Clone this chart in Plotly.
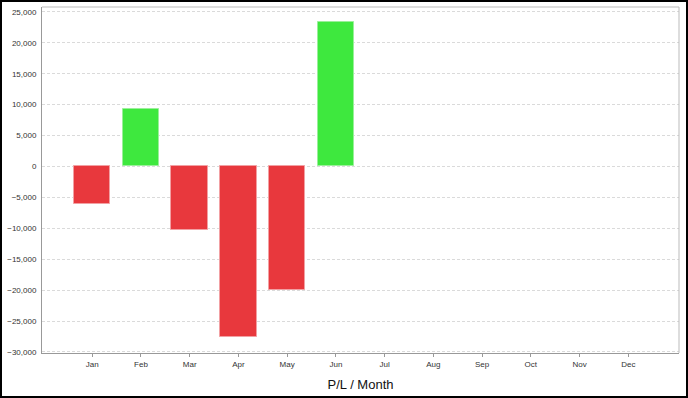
import plotly.graph_objects as go

months = ["Jan", "Feb", "Mar", "Apr", "May", "Jun", "Jul", "Aug", "Sep", "Oct", "Nov", "Dec"]
pl_values = [-6100, 9350, -10300, -27600, -20000, 23400, None, None, None, None, None, None]
y_tickvals = [-30000, -25000, -20000, -15000, -10000, -5000, 0, 5000, 10000, 15000, 20000, 25000]

RED = "#E8383D"
GREEN = "#3EE83E"
RED_EDGE = "#F2A0A3"
GREEN_EDGE = "#9AF09A"

xs = list(range(len(months)))
colors = [(GREEN if (v is not None and v >= 0) else RED) for v in pl_values]
edges = [(GREEN_EDGE if (v is not None and v >= 0) else RED_EDGE) for v in pl_values]

fig = go.Figure()
fig.add_trace(go.Bar(
    x=xs, y=pl_values, width=0.75,
    marker=dict(color=colors, line=dict(color=edges, width=1)),
    showlegend=False, hoverinfo="skip",
))

L, R, T, B = 42, 9, 7, 45
W, H = 688, 398
pw, ph = W - L - R, H - T - B

fig.update_layout(
    width=W, height=H,
    margin=dict(l=L, r=R, t=T, b=B, pad=0, autoexpand=False),
    paper_bgcolor="white", plot_bgcolor="white",
    font=dict(family="Liberation Sans, Arial, sans-serif", color="#333333", size=8),
    bargap=0,
    xaxis=dict(
        range=[-1.03, 12.04],
        tickmode="array", tickvals=xs, ticktext=months,
        showgrid=False, zeroline=False,
        showline=True, linecolor="#999999", linewidth=1,
        ticks="outside", ticklen=3, tickcolor="#999999", tickwidth=1,
        tickfont=dict(size=8, color="#333333"),
        title=dict(text="P/L / Month", font=dict(size=13, color="#111111"), standoff=12),
        automargin=False,
    ),
    yaxis=dict(
        range=[-30170, 25800],
        tickmode="array", tickvals=y_tickvals,
        tickformat=",d",
        showgrid=True, gridcolor="#DADADA", griddash="3px,2px", gridwidth=1,
        zeroline=False,
        showline=True, linecolor="#999999", linewidth=1,
        ticks="outside", ticklen=3, tickcolor="rgba(0,0,0,0)",
        tickfont=dict(size=8, color="#333333"),
        automargin=False,
    ),
)

# light plot frame on top and right
fig.add_shape(type="line", xref="paper", yref="paper", x0=0, x1=1, y0=1, y1=1,
              line=dict(color="#BBBBBB", width=1), layer="above")
fig.add_shape(type="line", xref="paper", yref="paper", x0=1, x1=1, y0=0, y1=1,
              line=dict(color="#BBBBBB", width=1), layer="above")

# outer black border around whole image
fig.add_shape(type="rect", xref="paper", yref="paper",
              x0=(1 - L) / pw, x1=(W - 1 - L) / pw,
              y0=(H - B - (H - 1)) / ph, y1=(H - B - 1) / ph,
              line=dict(color="black", width=2), fillcolor="rgba(0,0,0,0)", layer="above")

fig.write_html("out.html", config={"displayModeBar": False},
               post_script="document.body.style.margin='0';document.body.style.overflow='hidden';")
